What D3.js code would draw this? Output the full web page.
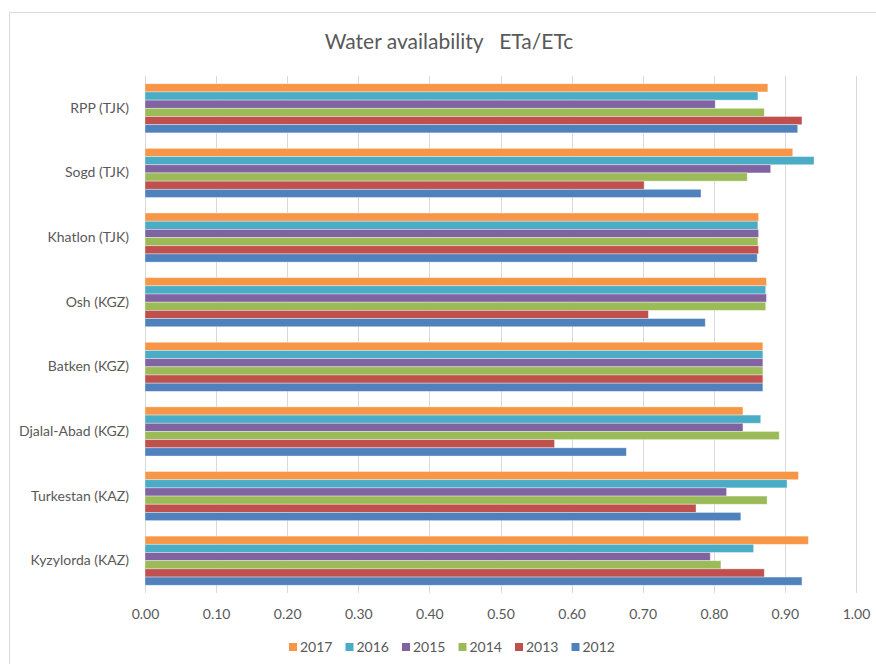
<!DOCTYPE html>
<html>
<head>
<meta charset="utf-8">
<script src="https://cdn.jsdelivr.net/npm/d3@7"></script>
<style>
  html, body { margin: 0; padding: 0; background: #fff; }
  svg text { font-family: Lato, "Open Sans", sans-serif; fill: #595959; }
</style>
</head>
<body>
<svg id="chart" width="876" height="664"></svg>
<script>
// Regions, top to bottom
const regions = ["RPP (TJK)", "Sogd (TJK)", "Khatlon (TJK)", "Osh (KGZ)",
                 "Batken (KGZ)", "Djalal-Abad (KGZ)", "Turkestan (KAZ)", "Kyzylorda (KAZ)"];

// Years, in bar order within each group (top to bottom)
const years = ["2017", "2016", "2015", "2014", "2013", "2012"];

// ETa/ETc per year, one value per region (same order as regions)
const eta2017 = [0.876, 0.911, 0.863, 0.874, 0.869, 0.841, 0.919, 0.933];
const eta2016 = [0.862, 0.941, 0.862, 0.873, 0.869, 0.866, 0.903, 0.856];
const eta2015 = [0.802, 0.880, 0.863, 0.874, 0.869, 0.841, 0.818, 0.795];
const eta2014 = [0.871, 0.847, 0.862, 0.873, 0.869, 0.892, 0.875, 0.810];
const eta2013 = [0.924, 0.702, 0.863, 0.708, 0.869, 0.576, 0.775, 0.871];
const eta2012 = [0.918, 0.782, 0.861, 0.788, 0.869, 0.677, 0.838, 0.924];

const xTicks = [0, 0.1, 0.2, 0.3, 0.4, 0.5, 0.6, 0.7, 0.8, 0.9, 1.0];

const seriesColors = {
  "2017": "#F79646", "2016": "#4BACC6", "2015": "#8064A2",
  "2014": "#9BBB59", "2013": "#C0504D", "2012": "#4F81BD"
};

const seriesValues = {
  "2017": eta2017, "2016": eta2016, "2015": eta2015,
  "2014": eta2014, "2013": eta2013, "2012": eta2012
};

const svg = d3.select("#chart");

// chart frame
svg.append("rect")
  .attr("x", 9.5).attr("y", 12.5)
  .attr("width", 900).attr("height", 700)
  .attr("fill", "#fff").attr("stroke", "#d9d9d9").attr("stroke-width", 1);

const plot = { left: 145, right: 856, top: 76, bottom: 593 };

const x = d3.scaleLinear().domain([0, 1]).range([plot.left, plot.right]);
const y = d3.scaleBand().domain(regions).range([plot.top, plot.bottom])
  .paddingInner(0.24).paddingOuter(0.12);
const yInner = d3.scaleBand().domain(years).range([0, y.bandwidth()]);

// title
svg.append("text")
  .attr("x", 449).attr("y", 49)
  .attr("text-anchor", "middle")
  .attr("font-size", 21)
  .text("Water availability\u00a0\u00a0\u00a0ETa/ETc");

// vertical gridlines
svg.append("g")
  .selectAll("line")
  .data(xTicks)
  .join("line")
  .attr("x1", d => Math.round(x(d)) + 0.5)
  .attr("x2", d => Math.round(x(d)) + 0.5)
  .attr("y1", plot.top).attr("y2", plot.bottom)
  .attr("stroke", "#d9d9d9").attr("stroke-width", 1);

// x axis labels
const xAxis = d3.axisBottom(x).tickValues(xTicks).tickFormat(d3.format(".2f")).tickSize(0).tickPadding(0);
const gx = svg.append("g").attr("transform", `translate(0,${plot.bottom})`).call(xAxis);
gx.select(".domain").remove();
gx.selectAll("text")
  .attr("dy", null)
  .attr("y", 26)
  .attr("font-size", 14)
  .style("font-family", "Lato, 'Open Sans', sans-serif")
  .attr("fill", "#595959");

// y axis labels
const yAxis = d3.axisLeft(y).tickSize(0).tickPadding(0);
const gy = svg.append("g").attr("transform", `translate(129,0)`).call(yAxis);
gy.select(".domain").remove();
gy.selectAll("text")
  .attr("font-size", 14)
  .style("font-family", "Lato, 'Open Sans', sans-serif")
  .attr("fill", "#595959");

// bars
const groups = svg.append("g")
  .selectAll("g")
  .data(regions)
  .join("g")
  .attr("transform", d => `translate(0,${y(d)})`);

groups.selectAll("rect")
  .data((r, i) => years.map(yr => ({ year: yr, value: seriesValues[yr][i] })))
  .join("rect")
  .attr("x", x(0))
  .attr("y", d => yInner(d.year))
  .attr("width", d => x(d.value) - x(0))
  .attr("height", yInner.bandwidth())
  .attr("fill", d => seriesColors[d.year])
  .attr("stroke", "#ffffff").attr("stroke-opacity", 0.45).attr("stroke-width", 0.8);

// legend
const legend = svg.append("g").attr("transform", "translate(289,643)");
const legItems = legend.selectAll("g")
  .data(years)
  .join("g")
  .attr("transform", (d, i) => `translate(${i * 56.5},0)`);
legItems.append("rect")
  .attr("width", 8).attr("height", 8)
  .attr("fill", d => seriesColors[d]);
legItems.append("text")
  .attr("x", 11).attr("y", 9)
  .attr("font-size", 14)
  .text(d => d);
</script>
</body>
</html>
